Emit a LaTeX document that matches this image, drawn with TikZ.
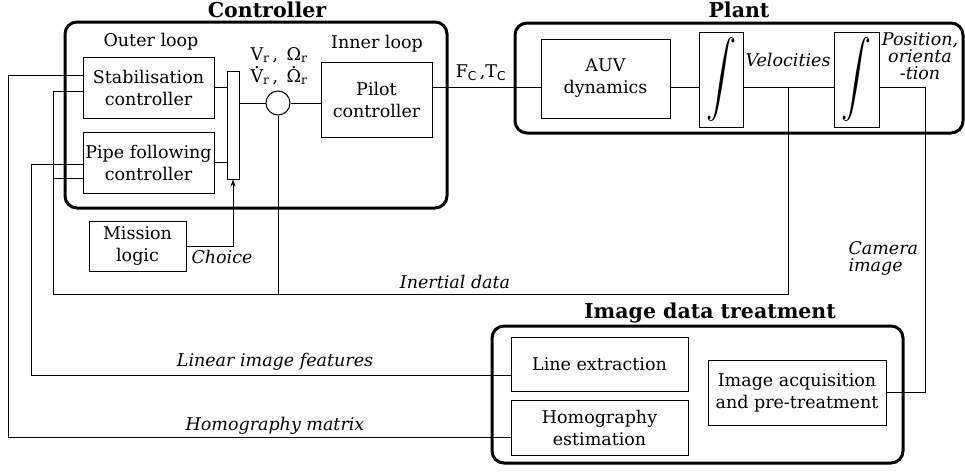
\documentclass[tikz,border=0pt]{standalone}
\usepackage{fontspec}
\setmainfont{DejaVu Serif}
\setsansfont{DejaVu Sans}
\usepackage{graphicx}
\usetikzlibrary{arrows.meta}

\newcommand\topdot[1]{\ooalign{#1\cr\hidewidth\raisebox{0.8em}{.}\hidewidth\cr}}

\begin{document}
\begin{tikzpicture}[x=1pt, y=-1pt,
    font=\fontsize{17.5}{22}\selectfont,
    block/.style={draw, line width=1pt, align=center, inner sep=0pt},
    group/.style={draw, line width=3pt, rounded corners=12pt},
    title/.style={font=\fontsize{20.5}{22}\selectfont\bfseries},
    signal/.style={font=\fontsize{17.5}{17}\selectfont\itshape, align=center},
    wire/.style={line width=1pt}]
    \useasboundingbox (0,0) rectangle (965,471);

    % group frames
    \draw[group] (65,22) rectangle (447,208);
    \draw[group] (515,23) rectangle (963,133);
    \draw[group] (492,326) rectangle (903,463);
    \node[title] (tctrl) at (267,10) {Controller};
    \node[title] (tplant) at (739,10) {Plant};
    \node[title] (tidt) at (710,313) {Image data treatment};

    % controller
    \node (outer) at (151,42) {Outer loop};
    \node (inner) at (377,44) {Inner loop};
    \node[block, minimum width=131pt, minimum height=61pt] (stab) at (148.5,87.5) {Stabilisation\\controller};
    \node[block, minimum width=131pt, minimum height=61pt] (pipe) at (148.5,162.5) {Pipe following\\controller};
    \node[block, minimum width=12pt, minimum height=108pt] (mux) at (233,125) {};
    \node[circle, draw, line width=1pt, minimum size=24pt, inner sep=0pt] (sum) at (278,103) {};
    \node[block, minimum width=111pt, minimum height=75pt] (pilot) at (376.5,99.5) {Pilot\\controller};
    \node[align=center, inner sep=0pt] (ref) at (279,66) {V\textsubscript{r}\,,\, Ω\textsubscript{r}\\
        \topdot{V}\textsubscript{r}\,,\, \topdot{Ω}\textsubscript{r}};
    \node[block, minimum width=97pt, minimum height=50pt] (mission) at (137.5,246) {Mission\\logic};

    % plant
    \node[block, minimum width=129pt, minimum height=79pt] (auv) at (605.5,78.5) {AUV\\dynamics};
    \node[block, minimum width=44pt, minimum height=95pt] (int1) at (721,79.5) {\resizebox*{30pt}{84pt}{$\displaystyle\int$}};
    \node[block, minimum width=45pt, minimum height=95pt] (int2) at (856.5,79.5) {\resizebox*{30pt}{84pt}{$\displaystyle\int$}};

    % image data treatment
    \node[block, minimum width=177pt, minimum height=54pt] (lineex) at (599.5,364) {Line extraction};
    \node[block, minimum width=177pt, minimum height=55pt] (homog) at (599.5,427.5) {Homography\\estimation};
    \node[block, minimum width=178pt, minimum height=65pt] (acq) at (797,392.5) {Image acquisition\\and pre-treatment};

    % signal labels
    \node (force) at (481,73) {F\textsubscript{\sffamily C}\,,T\textsubscript{\sffamily C}};
    \node[signal] (lvel) at (788,60) {Velocities};
    \node[signal] (lpos) at (920,56) {Position,\\orienta\\-tion};
    \node[signal] (lchoice) at (222,257) {Choice};
    \node[signal] (linert) at (455,282) {Inertial data};
    \node[signal, align=left, anchor=west] (lcam) at (845,258) {Camera\\image};
    \node[signal] (llin) at (275,362) {Linear image features};
    \node[signal] (lhom) at (275,426) {Homography matrix};

    % routing points
    \coordinate (fc) at (0,87);
    \coordinate (vel) at (788,87);
    \coordinate (cam) at (925,87);
    \coordinate (inert) at (53,294);
    \coordinate (linrow) at (31,375);
    \coordinate (homrow) at (8,437.5);

    % connections
    \draw[wire] (stab.east) -- (stab.east -| mux.west);
    \draw[wire] (pipe.east) -- (pipe.east -| mux.west);
    \draw[wire] (mux.east |- sum.west) -- (sum.west);
    \draw[wire] (sum.east) -- (sum.east -| pilot.west);
    \draw[wire] (pilot.east |- fc) -- (auv.west |- fc);
    \draw[wire] (auv.east |- fc) -- (int1.west |- fc);
    \draw[wire] (int1.east |- fc) -- (int2.west |- fc);
    \draw[wire] (int2.east |- fc) -- (cam) |- (acq.east);
    \draw[wire] (vel) |- (inert) |- ([yshift=-3.5pt]stab.west);
    \draw[wire] ([yshift=-15.5pt]pipe.west) -- ++(-30,0);
    \draw[wire] (sum.south) -- (sum.south |- inert);
    \draw[wire, -{Stealth[length=7pt, width=5pt]}] (mission.east) -| (mux.south);
    \draw[wire] ([yshift=12.5pt]stab.west) -| (homrow) -- (homrow -| homog.west);
    \draw[wire] ([yshift=-1.5pt]pipe.west) -| (linrow) -- (linrow -| lineex.west);
\end{tikzpicture}
\end{document}
